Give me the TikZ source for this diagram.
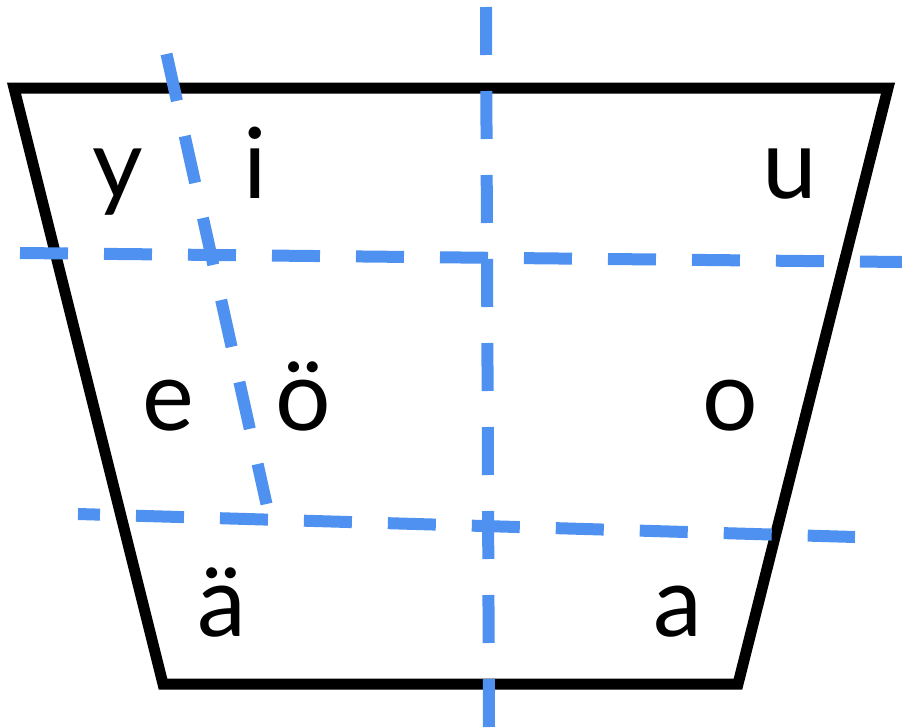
\documentclass[tikz,border=0pt]{standalone}
\usepackage{fontspec}
\setmainfont{Lato}
\definecolor{guide}{RGB}{79,145,240}
\begin{document}
\begin{tikzpicture}[x=1pt,y=-1pt,
  frame/.style={draw=black,line width=11pt,miter limit=10,line join=miter},
  guideline/.style={draw=guide,line width=12pt,line cap=butt,dash pattern=on 48pt off 36pt},
  vowel/.style={anchor=base,inner sep=0pt,font=\fontsize{98}{98}\selectfont}]
\useasboundingbox (0,0) rectangle (902,728);
% corners of the vowel trapezoid
\coordinate (tl) at (14,88);
\coordinate (tr) at (888,88);
\coordinate (br) at (738,684);
\coordinate (bl) at (163,684);
\draw[frame] (tl) -- (tr) -- (br) -- (bl) -- cycle;
% guide lines
\coordinate (vt) at (486,7);
\coordinate (vb) at (489,728);
\coordinate (h1a) at (20,253);
\coordinate (h1b) at (902,262);
\coordinate (h2a) at (78,514);
\coordinate (h2b) at (855,537);
\coordinate (sa) at (166.5,54);
\coordinate (sb) at (266.5,504);
\draw[guideline] (vt) -- (vb);
\draw[guideline] (h1a) -- (h1b);
\draw[guideline,dash phase=26pt] (h2a) -- (h2b);
\draw[guideline] (sa) -- (sb);
% vowels
\node[vowel] (y) at (118,198) {y};
\node[vowel] (i) at (255,198) {i};
\node[vowel] (u) at (790,198) {u};
\node[vowel] (e) at (168,430) {e};
\node[vowel] (oe) at (303,430) {ö};
\node[vowel] (o) at (730,430) {o};
\node[vowel] (ae) at (222,636) {ä};
\node[vowel] (a) at (678,636) {a};
\end{tikzpicture}
\end{document}
